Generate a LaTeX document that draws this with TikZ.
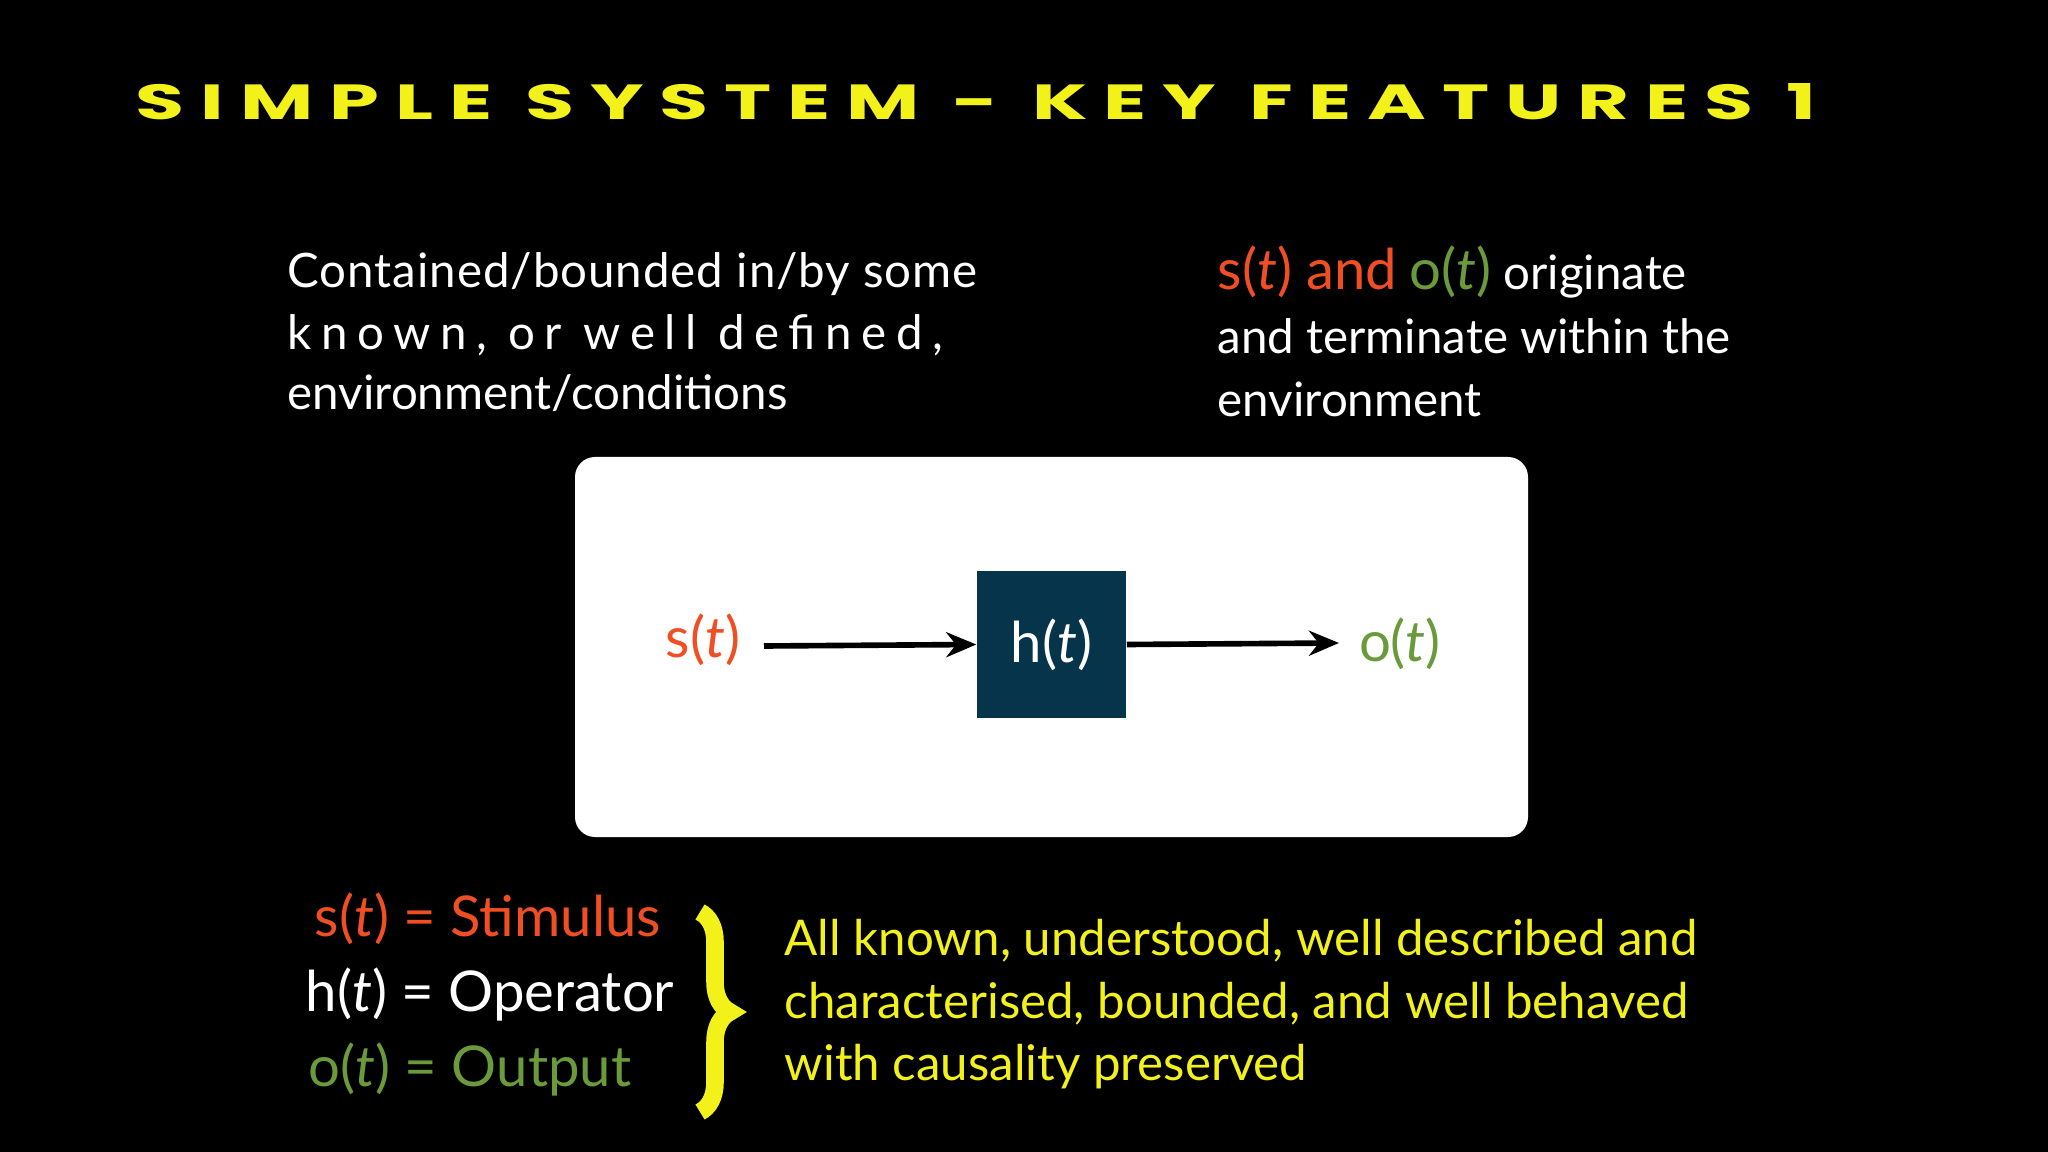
\documentclass[tikz,border=0pt]{standalone}
\usepackage{fontspec}
\setmainfont{Lato}
\newfontfamily\titlefont[LetterSpace=20]{Poppins Bold}
\usetikzlibrary{arrows.meta,decorations.pathreplacing}
\definecolor{sred}{HTML}{F04E23}
\definecolor{ogreen}{HTML}{6A9A3A}
\definecolor{tyel}{HTML}{F2F21A}
\definecolor{hbox}{HTML}{06344A}
\tikzset{
  txt/.style={anchor=base west,inner sep=0pt,text=white,font=\fontsize{13.5pt}{16pt}\selectfont},
  big/.style={inner sep=0pt,font=\fontsize{16pt}{19pt}\selectfont},
  arr/.style={-{Stealth[length=0.3cm,width=0.25cm]},line width=1.6pt,black}
}
\begin{document}
\begin{tikzpicture}[x=0.01cm,y=-0.01cm]
\fill[black] (0,0) rectangle (2048,1152);
\useasboundingbox (0,0) rectangle (2048,1152);
\node[anchor=base west,inner sep=0pt,text=tyel] (title) at (135,120) {\resizebox{16.8cm}{0.36cm}{\titlefont SIMPLE SYSTEM - KEY FEATURES 1}};
% left text
\node[txt] (l1) at (287,288) {\addfontfeature{LetterSpace=2}Contained/bounded in/by some};
\node[txt] (l2) at (287,350) {\addfontfeature{LetterSpace=20}known, or well defined,};
\node[txt] (l3) at (287,410) {environment/conditions};
% right text
\node[txt] (r1) at (1217,290) {\textcolor{sred}{\fontsize{16pt}{19pt}\selectfont s(\textit{t}) and} \textcolor{ogreen}{\fontsize{16pt}{19pt}\selectfont o(\textit{t})} originate};
\node[txt] (r2) at (1217,354) {and terminate within the};
\node[txt] (r3) at (1217,417) {environment};
% box
\fill[white,rounded corners=0.2cm] (575,457) rectangle (1528,837);
\node[fill=hbox,minimum width=1.49cm,minimum height=1.47cm,inner sep=0pt,text=white,big] (h) at (1051.5,644.5) {h(\textit{t})};
\node[big,text=sred] (s) at (703,640) {s(\textit{t})};
\node[big,text=ogreen] (o) at (1400,644) {o(\textit{t})};
\draw[arr] (764,646) -- (h.west);
\draw[arr] (h.east) -- (1339,643);
% legend
\node[big,anchor=base west,text=sred] (ls) at (314,936) {s(\textit{t}) = Stimulus};
\node[big,anchor=base west,text=white] (lh) at (305,1011) {h(\textit{t}) = Operator};
\node[big,anchor=base west,text=ogreen] (lo) at (308,1086) {o(\textit{t}) = Output};
\draw[tyel,line width=5pt,decorate,decoration={brace,amplitude=0.3cm}] (700,912) -- (700,1112);
\node[txt,text=tyel,font=\fontsize{14pt}{17pt}\selectfont] (y1) at (784,955) {All known, understood, well described and};
\node[txt,text=tyel,font=\fontsize{14pt}{17pt}\selectfont] (y2) at (784,1018) {characterised, bounded, and well behaved};
\node[txt,text=tyel,font=\fontsize{14pt}{17pt}\selectfont] (y3) at (784,1080) {with causality preserved};
\end{tikzpicture}
\end{document}
